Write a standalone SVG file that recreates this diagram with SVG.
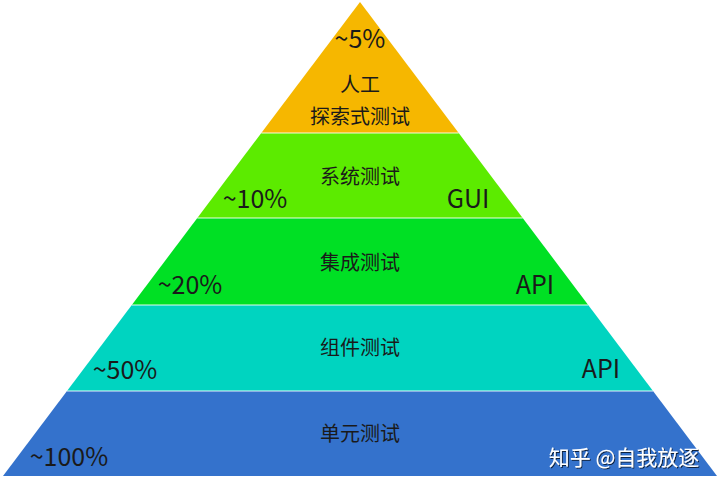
<svg xmlns="http://www.w3.org/2000/svg" width="720" height="487" viewBox="0 0 720 487">
<style>
.t{font-family:"Noto Sans CJK SC","Noto Sans",sans-serif;fill:#1a1a1a;text-anchor:middle}
.cn{font-size:20px}
.pc{font-size:25px}
.sep{stroke:#ffffff;stroke-opacity:0.6;stroke-width:1.5}
.wm{font-family:"Noto Sans CJK SC","Noto Sans",sans-serif;font-size:21px;fill:#ffffff;text-anchor:middle}
</style>
<defs>
<filter id="sh" x="-10%" y="-30%" width="120%" height="160%">
<feDropShadow dx="1" dy="1" stdDeviation="0.6" flood-color="#000" flood-opacity="0.7"/>
</filter>
</defs>
<rect width="720" height="487" fill="#ffffff"/>
<g id="band-manual">
<polygon points="360,2 458.7,133 261.3,133" fill="#F6B700"/>
<text class="t pc" x="360" y="48">~5%</text>
<text class="t cn" x="360" y="92">人工</text>
<text class="t cn" x="360" y="124">探索式测试</text>
</g>
<g id="band-system">
<polygon points="261.3,133 458.7,133 522.7,218 197.3,218" fill="#5CEB00"/>
<text class="t cn" x="360" y="184">系统测试</text>
<text class="t pc" x="255" y="208">~10%</text>
<text class="t pc" x="468" y="208">GUI</text>
</g>
<g id="band-integration">
<polygon points="197.3,218 522.7,218 588.2,305 131.8,305" fill="#00E024"/>
<text class="t cn" x="360" y="270">集成测试</text>
<text class="t pc" x="190" y="294">~20%</text>
<text class="t pc" x="535" y="294">API</text>
</g>
<g id="band-component">
<polygon points="131.8,305 588.2,305 653,391 67,391" fill="#00D4C0"/>
<text class="t cn" x="360" y="355">组件测试</text>
<text class="t pc" x="125" y="379">~50%</text>
<text class="t pc" x="601" y="378">API</text>
</g>
<g id="band-unit">
<polygon points="67,391 653,391 717,476 3,476" fill="#3472CC"/>
<text class="t cn" x="360" y="441">单元测试</text>
<text class="t pc" x="69" y="466">~100%</text>
</g>
<g id="connectors">
<line class="sep" x1="261.3" y1="133" x2="458.7" y2="133"/>
<line class="sep" x1="197.3" y1="218" x2="522.7" y2="218"/>
<line class="sep" x1="131.8" y1="305" x2="588.2" y2="305"/>
<line class="sep" x1="67" y1="391" x2="653" y2="391"/>
</g>
<text class="wm" x="624" y="465" filter="url(#sh)">知乎 @自我放逐</text>
</svg>
